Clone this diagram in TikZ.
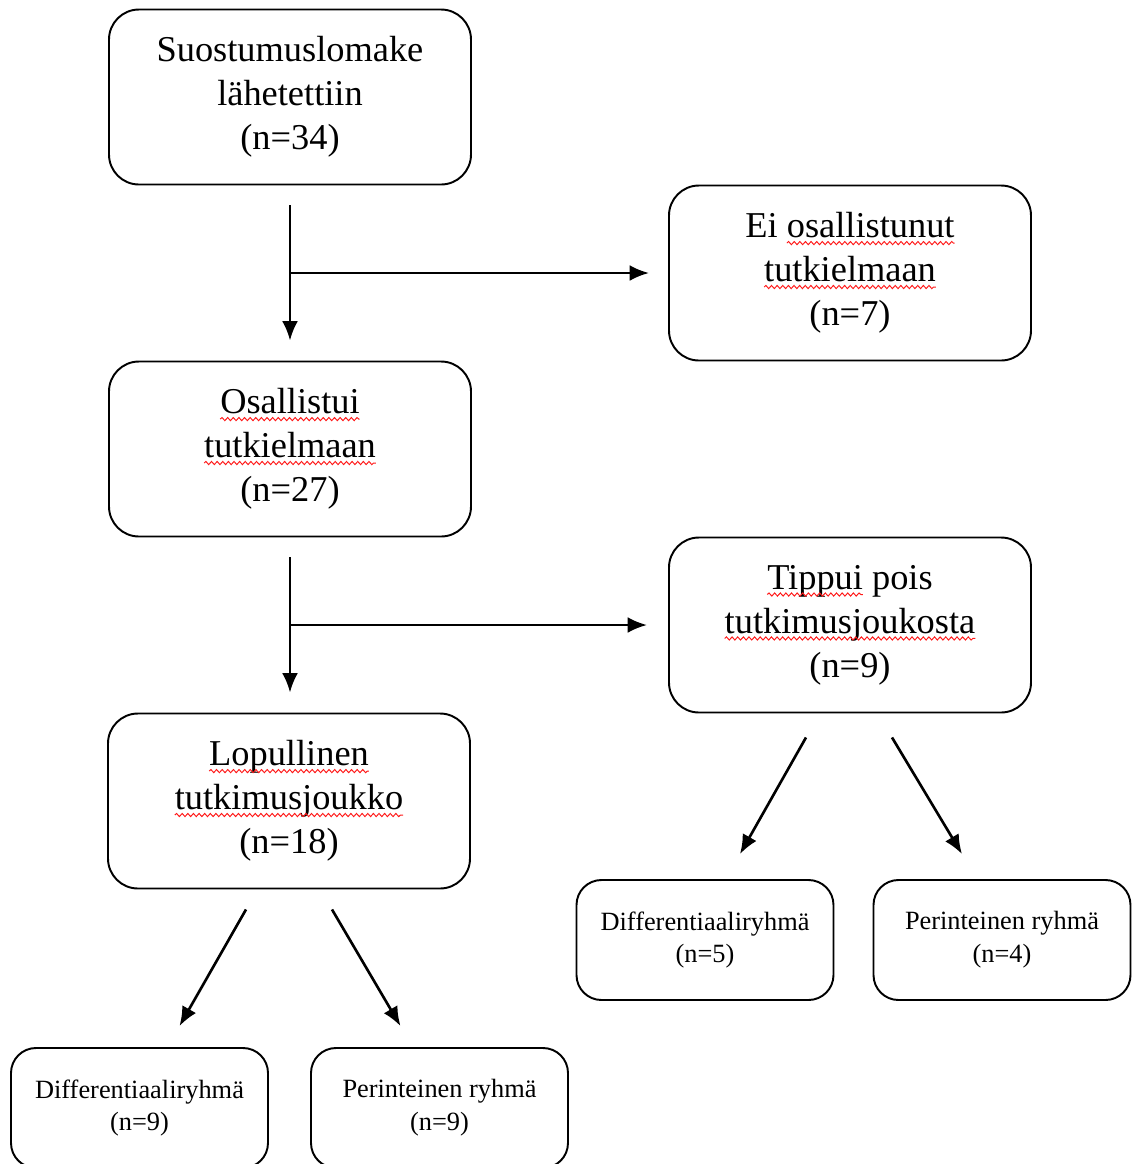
\documentclass[tikz,border=0pt]{standalone}
\usepackage{fontspec}
\setmainfont{Liberation Serif}
\usetikzlibrary{arrows.meta,decorations.pathmorphing}
\newcommand{\wavy}[1]{\tikz[baseline=(w.base)]{\node[draw=none, inner sep=0pt, outer sep=0pt, minimum width=0pt, minimum height=0pt, rounded corners=0pt, anchor=base] (w) {#1};
  \draw[overlay, red!90!white, line width=0.55pt, rounded corners=0pt, decorate, decoration={snake, amplitude=0.9pt, segment length=3.2pt}] ([yshift=-3pt]w.base west) -- ([yshift=-3pt]w.base east);}}
\tikzset{
  bigbox/.style={draw, rounded corners=0.6cm, line width=1.1pt, minimum width=7.24cm, minimum height=3.5cm, align=center, font=\fontsize{20.7}{25}\selectfont},
  smallbox/.style={draw, rounded corners=0.5cm, line width=1.1pt, minimum width=5.14cm, minimum height=2.4cm, align=center, font=\fontsize{15}{18.7}\selectfont},
  arr/.style={-{Latex[length=11pt,width=9pt]}, line width=1.5pt}
}
\begin{document}
\begin{tikzpicture}
\useasboundingbox (0,0) rectangle (22.64,-23.28);
\clip (0,0) rectangle (22.64,-23.28);
% boxes
\node[bigbox] (sent) at (5.8,-1.94) {Suostumuslomake\\lähetettiin\\(n=34)};
\node[bigbox] (noshow) at (17.0,-5.46) {Ei \wavy{osallistunut}\\\wavy{tutkielmaan}\\(n=7)};
\node[bigbox] (took) at (5.8,-8.98) {\wavy{Osallistui}\\\wavy{tutkielmaan}\\(n=27)};
\node[bigbox] (drop) at (17.0,-12.5) {\wavy{Tippui} pois\\\wavy{tutkimusjoukosta}\\(n=9)};
\node[bigbox] (final) at (5.78,-16.02) {\wavy{Lopullinen}\\\wavy{tutkimusjoukko}\\(n=18)};
\node[smallbox] (dropdiff) at (14.1,-18.8) {Differentiaaliryhmä\\(n=5)};
\node[smallbox] (droptrad) at (20.04,-18.8) {Perinteinen ryhmä\\(n=4)};
\node[smallbox] (finaldiff) at (2.79,-22.16) {Differentiaaliryhmä\\(n=9)};
\node[smallbox] (finaltrad) at (8.79,-22.16) {Perinteinen ryhmä\\(n=9)};
% arrows
\draw[arr, shorten <=0.4cm, shorten >=0.4cm] (sent) -- (took);
\coordinate (split1) at (sent.south |- noshow.west);
\draw[arr, shorten >=0.38cm] (split1) -- (noshow.west);
\draw[arr, shorten <=0.4cm, shorten >=0.4cm] (took.south) -- (took.south |- final.north);
\coordinate (split2) at (took.south |- drop.west);
\draw[arr, shorten >=0.42cm] (split2) -- (drop.west);
\coordinate (d1) at ([xshift=-0.88cm, yshift=-0.48cm]drop.south);
\coordinate (d2) at ([xshift=0.84cm, yshift=-0.48cm]drop.south);
\coordinate (d3) at ([xshift=0.7cm, yshift=0.5cm]dropdiff.north);
\coordinate (d4) at ([xshift=-0.8cm, yshift=0.5cm]droptrad.north);
\draw[arr] (d1) -- (d3);
\draw[arr] (d2) -- (d4);
\coordinate (f1) at ([xshift=-0.86cm, yshift=-0.4cm]final.south);
\coordinate (f2) at ([xshift=0.86cm, yshift=-0.4cm]final.south);
\coordinate (f3) at ([xshift=0.8cm, yshift=0.42cm]finaldiff.north);
\coordinate (f4) at ([xshift=-0.78cm, yshift=0.42cm]finaltrad.north);
\draw[arr] (f1) -- (f3);
\draw[arr] (f2) -- (f4);
\end{tikzpicture}
\end{document}
